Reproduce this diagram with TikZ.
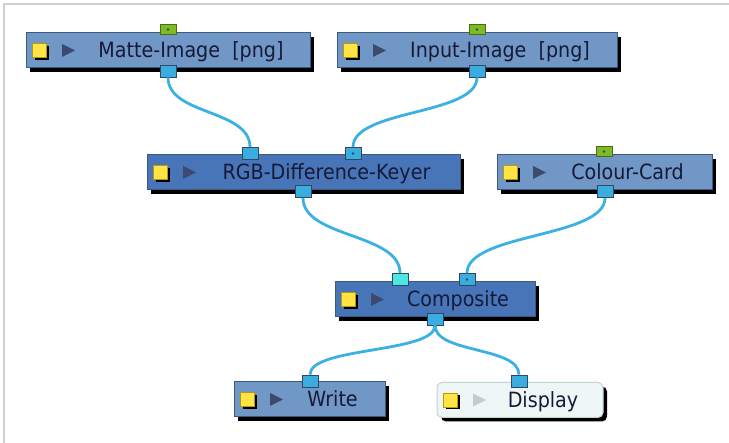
\documentclass[tikz,border=0pt]{standalone}
\usepackage{fontspec}
\setmainfont{DejaVu Sans}[FakeStretch=0.91]

\definecolor{nodeblue}{HTML}{7097C5}
\definecolor{nodedark}{HTML}{4874B8}
\definecolor{nodeline}{HTML}{3A5A80}
\definecolor{labelink}{HTML}{161A38}
\definecolor{wireblue}{HTML}{3BB0E2}
\definecolor{portblue}{HTML}{3AACE0}
\definecolor{portline}{HTML}{2C4A66}
\definecolor{portgreen}{HTML}{7DBB22}
\definecolor{greenline}{HTML}{4A6A20}
\definecolor{portcyan}{HTML}{4DE6E0}
\definecolor{knob}{HTML}{FFE445}
\definecolor{knobline}{HTML}{B39A10}
\definecolor{playdark}{HTML}{3B4A6E}
\definecolor{playlight}{HTML}{C2CBD0}
\definecolor{dispfill}{HTML}{EEF6F6}
\definecolor{displine}{HTML}{C3D3D3}
\definecolor{framegray}{HTML}{D0D0D0}

\begin{document}
\begin{tikzpicture}[x=1pt, y=-1pt,
  modbox/.style={draw=nodeline, line width=1pt, fill=nodeblue,
    minimum height=35pt, inner sep=0pt,
    preaction={fill=black, transform canvas={shift={(4pt,-4pt)}}},
    path picture={
      \fill[black, sharp corners] ([shift={(8.5pt,4.5pt)}]path picture bounding box.west) rectangle +(14pt,-14pt);
      \filldraw[fill=knob, draw=knobline, line width=0.6pt, sharp corners]
        ([shift={(6pt,7pt)}]path picture bounding box.west) rectangle +(14pt,-14pt);
      \fill[#1, sharp corners] ([shift={(36pt,6.5pt)}]path picture bounding box.west)
        -- +(13pt,-6.5pt) -- +(0pt,-13pt) -- cycle;
    }},
  modbox/.default=playdark,
  dispbox/.style={modbox=playlight, fill=dispfill, draw=displine, rounded corners=5pt},
  modtext/.style={anchor=base, text=labelink, inner sep=0pt,
    font=\fontsize{21}{21}\selectfont},
  port/.style={draw=portline, line width=0.8pt, fill=portblue,
    minimum width=16pt, minimum height=12pt, inner sep=0pt},
  dotport/.style={port, path picture={
      \fill[portline] (path picture bounding box.center) circle (1.4pt);}},
  greenport/.style={dotport, fill=portgreen, draw=greenline, minimum height=10pt},
  wire/.style={draw=wireblue, line width=2.8pt}]

  \useasboundingbox (0,0) rectangle (729,443);
  % window frame, top and left only
  \draw[framegray, line width=2pt] (4,443) -- (4,4) -- (729,4);

  % ---------------- sources ----------------
  \node[modbox, minimum width=284pt] (matte) at (168,50.5) {};
  \node[modtext] (matte-text) at ([shift={(23pt,-7.5pt)}]matte.center) {Matte-Image~~[png]};
  \node[greenport] (matte-top) at (168,29.5) {};
  \node[port] (matte-out) at (168,71) {};

  \node[modbox, minimum width=280pt] (input) at (477,50.5) {};
  \node[modtext] (input-text) at ([shift={(23pt,-7.5pt)}]input.center) {Input-Image~~[png]};
  \node[greenport] (input-top) at (477,29.5) {};
  \node[port] (input-out) at (477,71) {};

  % ---------------- keyer and card ----------------
  \node[modbox, fill=nodedark, minimum width=313pt] (keyer) at (303.5,172.5) {};
  \node[modtext] (keyer-text) at ([shift={(23pt,-7.5pt)}]keyer.center) {RGB-Difference-Keyer};
  \node[port] (keyer-in1) at (250,153.5) {};
  \node[dotport] (keyer-in2) at (353,153.5) {};
  \node[port] (keyer-out) at (303,191.5) {};

  \node[modbox, minimum width=215pt] (card) at (604.5,172.5) {};
  \node[modtext] (card-text) at ([shift={(23pt,-7.5pt)}]card.center) {Colour-Card};
  \node[greenport] (card-top) at (604,151.5) {};
  \node[port] (card-out) at (605,191.5) {};

  % ---------------- composite ----------------
  \node[modbox, fill=nodedark, minimum width=200pt] (comp) at (435,299.5) {};
  \node[modtext] (comp-text) at ([shift={(23pt,-7.5pt)}]comp.center) {Composite};
  \node[port, fill=portcyan] (comp-in1) at (400,279.5) {};
  \node[dotport] (comp-in2) at (467,279.5) {};
  \node[port] (comp-out) at (435,319) {};

  % ---------------- outputs ----------------
  \node[modbox, minimum width=151pt] (write) at (309.5,399.5) {};
  \node[modtext] (write-text) at ([shift={(23pt,-7.5pt)}]write.center) {Write};
  \node[port] (write-in) at (310,381) {};

  \node[dispbox, minimum width=166pt] (display) at (520,400) {};
  \node[modtext] (display-text) at ([shift={(23pt,-7.5pt)}]display.center) {Display};
  \node[port] (display-in) at (519,381) {};

  % wires, out port to in port
  \draw[wire] (matte-out.south) .. controls +(0,38) and +(0,-38) .. (keyer-in1.north);
  \draw[wire] (input-out.south) .. controls +(0,38) and +(0,-38) .. (keyer-in2.north);
  \draw[wire] (keyer-out.south) .. controls +(0,40) and +(0,-40) .. (comp-in1.north);
  \draw[wire] (card-out.south) .. controls +(0,40) and +(0,-40) .. (comp-in2.north);
  \draw[wire] (comp-out.south) .. controls +(0,28) and +(0,-28) .. (write-in.north);
  \draw[wire] (comp-out.south) .. controls +(0,28) and +(0,-28) .. (display-in.north);

\end{tikzpicture}
\end{document}
